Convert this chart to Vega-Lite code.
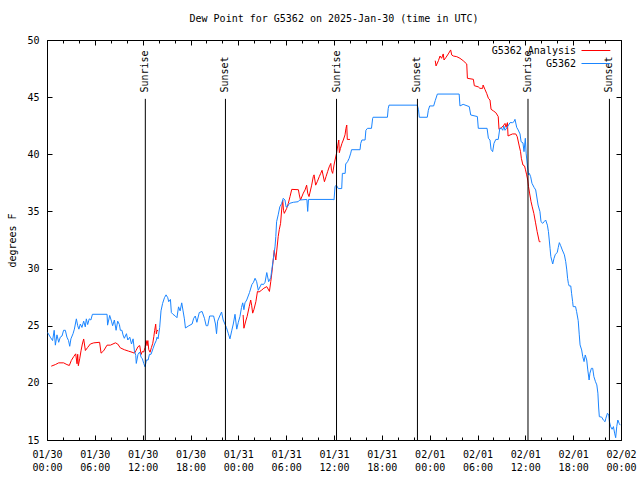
{
"$schema": "https://vega.github.io/schema/vega-lite/v6.json",
"width": 574, "height": 400,
"autosize": {"type": "none"},
"padding": {"left": 47, "top": 40, "right": 19, "bottom": 40},
"background": "white",
"title": {"text": "Dew Point for G5362 on 2025-Jan-30 (time in UTC)", "font": "DejaVu Sans Mono", "fontSize": 10, "fontWeight": "normal", "color": "black", "anchor": "middle", "frame": "group", "offset": 11},
"config": {"view": {"stroke": "black", "strokeWidth": 1}, "font": "DejaVu Sans Mono",
 "axis": {"grid": false, "domain": false, "tickColor": "black", "tickWidth": 1, "labelColor": "black", "labelFont": "DejaVu Sans Mono", "labelFontSize": 10, "titleFont": "DejaVu Sans Mono", "titleFontSize": 10, "titleFontWeight": "normal", "titleColor": "black"}},
"datasets": {
"sun": [
{"time": "2025-01-30T12:20:00Z", "event": "Sunrise"},
{"time": "2025-01-30T22:23:00Z", "event": "Sunset"},
{"time": "2025-01-31T12:19:00Z", "event": "Sunrise"},
{"time": "2025-01-31T22:28:00Z", "event": "Sunset"},
{"time": "2025-02-01T12:20:00Z", "event": "Sunrise"},
{"time": "2025-02-01T22:33:00Z", "event": "Sunset"}
],
"analysis": [
{"time":"2025-01-30T00:32:00Z","dewpoint":21.46,"series":"G5362 Analysis","segment":"a1"},
{"time":"2025-01-30T01:03:00Z","dewpoint":21.6,"series":"G5362 Analysis","segment":"a1"},
{"time":"2025-01-30T01:28:00Z","dewpoint":21.75,"series":"G5362 Analysis","segment":"a1"},
{"time":"2025-01-30T02:05:00Z","dewpoint":21.75,"series":"G5362 Analysis","segment":"a1"},
{"time":"2025-01-30T02:30:00Z","dewpoint":21.6,"series":"G5362 Analysis","segment":"a1"},
{"time":"2025-01-30T02:48:00Z","dewpoint":21.52,"series":"G5362 Analysis","segment":"a1"},
{"time":"2025-01-30T03:03:00Z","dewpoint":21.96,"series":"G5362 Analysis","segment":"a1"},
{"time":"2025-01-30T03:21:00Z","dewpoint":22.3,"series":"G5362 Analysis","segment":"a1"},
{"time":"2025-01-30T03:36:00Z","dewpoint":22.54,"series":"G5362 Analysis","segment":"a1"},
{"time":"2025-01-30T03:46:00Z","dewpoint":21.67,"series":"G5362 Analysis","segment":"a1"},
{"time":"2025-01-30T03:51:00Z","dewpoint":22.5,"series":"G5362 Analysis","segment":"a1"},
{"time":"2025-01-30T03:56:00Z","dewpoint":21.5,"series":"G5362 Analysis","segment":"a1"},
{"time":"2025-01-30T04:06:00Z","dewpoint":22.1,"series":"G5362 Analysis","segment":"a1"},
{"time":"2025-01-30T04:16:00Z","dewpoint":22.8,"series":"G5362 Analysis","segment":"a1"},
{"time":"2025-01-30T04:26:00Z","dewpoint":23.4,"series":"G5362 Analysis","segment":"a1"},
{"time":"2025-01-30T04:36:00Z","dewpoint":23.84,"series":"G5362 Analysis","segment":"a1"},
{"time":"2025-01-30T04:49:00Z","dewpoint":22.83,"series":"G5362 Analysis","segment":"a1"},
{"time":"2025-01-30T05:06:00Z","dewpoint":23.1,"series":"G5362 Analysis","segment":"a1"},
{"time":"2025-01-30T05:26:00Z","dewpoint":23.4,"series":"G5362 Analysis","segment":"a1"},
{"time":"2025-01-30T05:52:00Z","dewpoint":23.5,"series":"G5362 Analysis","segment":"a1"},
{"time":"2025-01-30T06:36:00Z","dewpoint":23.55,"series":"G5362 Analysis","segment":"a1"},
{"time":"2025-01-30T06:47:00Z","dewpoint":22.6,"series":"G5362 Analysis","segment":"a1"},
{"time":"2025-01-30T07:06:00Z","dewpoint":22.8,"series":"G5362 Analysis","segment":"a1"},
{"time":"2025-01-30T07:32:00Z","dewpoint":23.3,"series":"G5362 Analysis","segment":"a1"},
{"time":"2025-01-30T07:57:00Z","dewpoint":23.3,"series":"G5362 Analysis","segment":"a1"},
{"time":"2025-01-30T08:35:00Z","dewpoint":23.5,"series":"G5362 Analysis","segment":"a1"},
{"time":"2025-01-30T08:52:00Z","dewpoint":23.4,"series":"G5362 Analysis","segment":"a1"},
{"time":"2025-01-30T09:12:00Z","dewpoint":23.06,"series":"G5362 Analysis","segment":"a1"},
{"time":"2025-01-30T09:42:00Z","dewpoint":22.9,"series":"G5362 Analysis","segment":"a1"},
{"time":"2025-01-30T10:15:00Z","dewpoint":22.77,"series":"G5362 Analysis","segment":"a1"},
{"time":"2025-01-30T10:40:00Z","dewpoint":22.68,"series":"G5362 Analysis","segment":"a1"},
{"time":"2025-01-30T10:58:00Z","dewpoint":22.6,"series":"G5362 Analysis","segment":"a1"},
{"time":"2025-01-30T11:10:00Z","dewpoint":22.83,"series":"G5362 Analysis","segment":"a1"},
{"time":"2025-01-30T11:25:00Z","dewpoint":23.17,"series":"G5362 Analysis","segment":"a1"},
{"time":"2025-01-30T11:38:00Z","dewpoint":23.26,"series":"G5362 Analysis","segment":"a1"},
{"time":"2025-01-30T11:48:00Z","dewpoint":22.48,"series":"G5362 Analysis","segment":"a1"},
{"time":"2025-01-30T11:58:00Z","dewpoint":22.75,"series":"G5362 Analysis","segment":"a1"},
{"time":"2025-01-30T12:08:00Z","dewpoint":22.7,"series":"G5362 Analysis","segment":"a1"},
{"time":"2025-01-30T12:18:00Z","dewpoint":23.1,"series":"G5362 Analysis","segment":"a1"},
{"time":"2025-01-30T12:26:00Z","dewpoint":23.7,"series":"G5362 Analysis","segment":"a1"},
{"time":"2025-01-30T12:33:00Z","dewpoint":23.26,"series":"G5362 Analysis","segment":"a1"},
{"time":"2025-01-30T12:39:00Z","dewpoint":23.7,"series":"G5362 Analysis","segment":"a1"},
{"time":"2025-01-30T12:46:00Z","dewpoint":22.9,"series":"G5362 Analysis","segment":"a1"},
{"time":"2025-01-30T12:56:00Z","dewpoint":22.68,"series":"G5362 Analysis","segment":"a1"},
{"time":"2025-01-30T13:06:00Z","dewpoint":23.1,"series":"G5362 Analysis","segment":"a1"},
{"time":"2025-01-30T13:16:00Z","dewpoint":23.46,"series":"G5362 Analysis","segment":"a1"},
{"time":"2025-01-30T13:24:00Z","dewpoint":24.04,"series":"G5362 Analysis","segment":"a1"},
{"time":"2025-01-30T13:30:00Z","dewpoint":24.57,"series":"G5362 Analysis","segment":"a1"},
{"time":"2025-01-30T13:38:00Z","dewpoint":25.14,"series":"G5362 Analysis","segment":"a1"},
{"time":"2025-01-30T13:43:00Z","dewpoint":24.28,"series":"G5362 Analysis","segment":"a1"},
{"time":"2025-01-30T13:48:00Z","dewpoint":24.57,"series":"G5362 Analysis","segment":"a1"},
{"time":"2025-01-30T13:56:00Z","dewpoint":24.6,"series":"G5362 Analysis","segment":"a1"},
{"time":"2025-01-31T00:36:00Z","dewpoint":25.94,"series":"G5362 Analysis","segment":"a2"},
{"time":"2025-01-31T00:42:00Z","dewpoint":24.78,"series":"G5362 Analysis","segment":"a2"},
{"time":"2025-01-31T00:58:00Z","dewpoint":25.5,"series":"G5362 Analysis","segment":"a2"},
{"time":"2025-01-31T01:06:00Z","dewpoint":25.8,"series":"G5362 Analysis","segment":"a2"},
{"time":"2025-01-31T01:22:00Z","dewpoint":26.67,"series":"G5362 Analysis","segment":"a2"},
{"time":"2025-01-31T01:33:00Z","dewpoint":27.25,"series":"G5362 Analysis","segment":"a2"},
{"time":"2025-01-31T01:40:00Z","dewpoint":26.8,"series":"G5362 Analysis","segment":"a2"},
{"time":"2025-01-31T01:48:00Z","dewpoint":26.1,"series":"G5362 Analysis","segment":"a2"},
{"time":"2025-01-31T01:57:00Z","dewpoint":26.4,"series":"G5362 Analysis","segment":"a2"},
{"time":"2025-01-31T02:12:00Z","dewpoint":27.1,"series":"G5362 Analysis","segment":"a2"},
{"time":"2025-01-31T02:24:00Z","dewpoint":28.0,"series":"G5362 Analysis","segment":"a2"},
{"time":"2025-01-31T02:36:00Z","dewpoint":27.95,"series":"G5362 Analysis","segment":"a2"},
{"time":"2025-01-31T02:54:00Z","dewpoint":28.1,"series":"G5362 Analysis","segment":"a2"},
{"time":"2025-01-31T03:12:00Z","dewpoint":28.28,"series":"G5362 Analysis","segment":"a2"},
{"time":"2025-01-31T03:34:00Z","dewpoint":28.42,"series":"G5362 Analysis","segment":"a2"},
{"time":"2025-01-31T03:54:00Z","dewpoint":28.0,"series":"G5362 Analysis","segment":"a2"},
{"time":"2025-01-31T04:04:00Z","dewpoint":28.86,"series":"G5362 Analysis","segment":"a2"},
{"time":"2025-01-31T04:12:00Z","dewpoint":29.6,"series":"G5362 Analysis","segment":"a2"},
{"time":"2025-01-31T04:24:00Z","dewpoint":30.9,"series":"G5362 Analysis","segment":"a2"},
{"time":"2025-01-31T04:30:00Z","dewpoint":31.6,"series":"G5362 Analysis","segment":"a2"},
{"time":"2025-01-31T04:42:00Z","dewpoint":30.75,"series":"G5362 Analysis","segment":"a2"},
{"time":"2025-01-31T05:00:00Z","dewpoint":32.8,"series":"G5362 Analysis","segment":"a2"},
{"time":"2025-01-31T05:08:00Z","dewpoint":33.4,"series":"G5362 Analysis","segment":"a2"},
{"time":"2025-01-31T05:18:00Z","dewpoint":33.96,"series":"G5362 Analysis","segment":"a2"},
{"time":"2025-01-31T05:26:00Z","dewpoint":35.13,"series":"G5362 Analysis","segment":"a2"},
{"time":"2025-01-31T05:34:00Z","dewpoint":36.0,"series":"G5362 Analysis","segment":"a2"},
{"time":"2025-01-31T05:40:00Z","dewpoint":35.1,"series":"G5362 Analysis","segment":"a2"},
{"time":"2025-01-31T05:46:00Z","dewpoint":34.83,"series":"G5362 Analysis","segment":"a2"},
{"time":"2025-01-31T06:04:00Z","dewpoint":35.27,"series":"G5362 Analysis","segment":"a2"},
{"time":"2025-01-31T06:16:00Z","dewpoint":35.7,"series":"G5362 Analysis","segment":"a2"},
{"time":"2025-01-31T06:29:00Z","dewpoint":36.3,"series":"G5362 Analysis","segment":"a2"},
{"time":"2025-01-31T06:42:00Z","dewpoint":36.93,"series":"G5362 Analysis","segment":"a2"},
{"time":"2025-01-31T07:32:00Z","dewpoint":36.9,"series":"G5362 Analysis","segment":"a2"},
{"time":"2025-01-31T07:39:00Z","dewpoint":36.44,"series":"G5362 Analysis","segment":"a2"},
{"time":"2025-01-31T07:48:00Z","dewpoint":36.0,"series":"G5362 Analysis","segment":"a2"},
{"time":"2025-01-31T08:09:00Z","dewpoint":36.6,"series":"G5362 Analysis","segment":"a2"},
{"time":"2025-01-31T08:22:00Z","dewpoint":36.88,"series":"G5362 Analysis","segment":"a2"},
{"time":"2025-01-31T08:34:00Z","dewpoint":37.3,"series":"G5362 Analysis","segment":"a2"},
{"time":"2025-01-31T08:42:00Z","dewpoint":36.6,"series":"G5362 Analysis","segment":"a2"},
{"time":"2025-01-31T08:52:00Z","dewpoint":36.3,"series":"G5362 Analysis","segment":"a2"},
{"time":"2025-01-31T09:12:00Z","dewpoint":37.3,"series":"G5362 Analysis","segment":"a2"},
{"time":"2025-01-31T09:24:00Z","dewpoint":38.04,"series":"G5362 Analysis","segment":"a2"},
{"time":"2025-01-31T09:30:00Z","dewpoint":38.2,"series":"G5362 Analysis","segment":"a2"},
{"time":"2025-01-31T09:42:00Z","dewpoint":37.3,"series":"G5362 Analysis","segment":"a2"},
{"time":"2025-01-31T09:54:00Z","dewpoint":37.6,"series":"G5362 Analysis","segment":"a2"},
{"time":"2025-01-31T10:09:00Z","dewpoint":38.04,"series":"G5362 Analysis","segment":"a2"},
{"time":"2025-01-31T10:20:00Z","dewpoint":38.33,"series":"G5362 Analysis","segment":"a2"},
{"time":"2025-01-31T10:30:00Z","dewpoint":38.6,"series":"G5362 Analysis","segment":"a2"},
{"time":"2025-01-31T10:48:00Z","dewpoint":37.6,"series":"G5362 Analysis","segment":"a2"},
{"time":"2025-01-31T11:00:00Z","dewpoint":38.04,"series":"G5362 Analysis","segment":"a2"},
{"time":"2025-01-31T11:12:00Z","dewpoint":38.48,"series":"G5362 Analysis","segment":"a2"},
{"time":"2025-01-31T11:24:00Z","dewpoint":38.9,"series":"G5362 Analysis","segment":"a2"},
{"time":"2025-01-31T11:36:00Z","dewpoint":39.2,"series":"G5362 Analysis","segment":"a2"},
{"time":"2025-01-31T11:41:00Z","dewpoint":38.6,"series":"G5362 Analysis","segment":"a2"},
{"time":"2025-01-31T11:50:00Z","dewpoint":38.33,"series":"G5362 Analysis","segment":"a2"},
{"time":"2025-01-31T12:00:00Z","dewpoint":39.06,"series":"G5362 Analysis","segment":"a2"},
{"time":"2025-01-31T12:08:00Z","dewpoint":39.5,"series":"G5362 Analysis","segment":"a2"},
{"time":"2025-01-31T12:20:00Z","dewpoint":40.14,"series":"G5362 Analysis","segment":"a2"},
{"time":"2025-01-31T12:28:00Z","dewpoint":40.73,"series":"G5362 Analysis","segment":"a2"},
{"time":"2025-01-31T12:36:00Z","dewpoint":41.25,"series":"G5362 Analysis","segment":"a2"},
{"time":"2025-01-31T12:40:00Z","dewpoint":40.14,"series":"G5362 Analysis","segment":"a2"},
{"time":"2025-01-31T12:48:00Z","dewpoint":40.5,"series":"G5362 Analysis","segment":"a2"},
{"time":"2025-01-31T13:00:00Z","dewpoint":40.96,"series":"G5362 Analysis","segment":"a2"},
{"time":"2025-01-31T13:10:00Z","dewpoint":41.25,"series":"G5362 Analysis","segment":"a2"},
{"time":"2025-01-31T13:23:00Z","dewpoint":41.7,"series":"G5362 Analysis","segment":"a2"},
{"time":"2025-01-31T13:30:00Z","dewpoint":42.27,"series":"G5362 Analysis","segment":"a2"},
{"time":"2025-01-31T13:36:00Z","dewpoint":42.56,"series":"G5362 Analysis","segment":"a2"},
{"time":"2025-01-31T13:40:00Z","dewpoint":41.3,"series":"G5362 Analysis","segment":"a2"},
{"time":"2025-01-31T14:00:00Z","dewpoint":41.3,"series":"G5362 Analysis","segment":"a2"},
{"time":"2025-02-01T00:42:00Z","dewpoint":48.19,"series":"G5362 Analysis","segment":"a3"},
{"time":"2025-02-01T00:48:00Z","dewpoint":47.73,"series":"G5362 Analysis","segment":"a3"},
{"time":"2025-02-01T01:06:00Z","dewpoint":48.19,"series":"G5362 Analysis","segment":"a3"},
{"time":"2025-02-01T01:18:00Z","dewpoint":48.6,"series":"G5362 Analysis","segment":"a3"},
{"time":"2025-02-01T01:30:00Z","dewpoint":48.4,"series":"G5362 Analysis","segment":"a3"},
{"time":"2025-02-01T01:42:00Z","dewpoint":48.78,"series":"G5362 Analysis","segment":"a3"},
{"time":"2025-02-01T01:48:00Z","dewpoint":48.25,"series":"G5362 Analysis","segment":"a3"},
{"time":"2025-02-01T02:03:00Z","dewpoint":48.48,"series":"G5362 Analysis","segment":"a3"},
{"time":"2025-02-01T02:20:00Z","dewpoint":48.78,"series":"G5362 Analysis","segment":"a3"},
{"time":"2025-02-01T02:38:00Z","dewpoint":49.13,"series":"G5362 Analysis","segment":"a3"},
{"time":"2025-02-01T02:46:00Z","dewpoint":48.69,"series":"G5362 Analysis","segment":"a3"},
{"time":"2025-02-01T02:58:00Z","dewpoint":48.6,"series":"G5362 Analysis","segment":"a3"},
{"time":"2025-02-01T03:24:00Z","dewpoint":48.54,"series":"G5362 Analysis","segment":"a3"},
{"time":"2025-02-01T03:48:00Z","dewpoint":48.4,"series":"G5362 Analysis","segment":"a3"},
{"time":"2025-02-01T04:12:00Z","dewpoint":48.19,"series":"G5362 Analysis","segment":"a3"},
{"time":"2025-02-01T04:39:00Z","dewpoint":47.9,"series":"G5362 Analysis","segment":"a3"},
{"time":"2025-02-01T04:44:00Z","dewpoint":46.65,"series":"G5362 Analysis","segment":"a3"},
{"time":"2025-02-01T05:29:00Z","dewpoint":46.56,"series":"G5362 Analysis","segment":"a3"},
{"time":"2025-02-01T05:36:00Z","dewpoint":46.0,"series":"G5362 Analysis","segment":"a3"},
{"time":"2025-02-01T06:06:00Z","dewpoint":45.9,"series":"G5362 Analysis","segment":"a3"},
{"time":"2025-02-01T06:18:00Z","dewpoint":45.77,"series":"G5362 Analysis","segment":"a3"},
{"time":"2025-02-01T06:39:00Z","dewpoint":45.77,"series":"G5362 Analysis","segment":"a3"},
{"time":"2025-02-01T06:42:00Z","dewpoint":46.06,"series":"G5362 Analysis","segment":"a3"},
{"time":"2025-02-01T06:56:00Z","dewpoint":45.68,"series":"G5362 Analysis","segment":"a3"},
{"time":"2025-02-01T07:09:00Z","dewpoint":45.33,"series":"G5362 Analysis","segment":"a3"},
{"time":"2025-02-01T07:22:00Z","dewpoint":44.9,"series":"G5362 Analysis","segment":"a3"},
{"time":"2025-02-01T07:34:00Z","dewpoint":44.75,"series":"G5362 Analysis","segment":"a3"},
{"time":"2025-02-01T07:42:00Z","dewpoint":43.94,"series":"G5362 Analysis","segment":"a3"},
{"time":"2025-02-01T07:59:00Z","dewpoint":43.8,"series":"G5362 Analysis","segment":"a3"},
{"time":"2025-02-01T08:18:00Z","dewpoint":43.64,"series":"G5362 Analysis","segment":"a3"},
{"time":"2025-02-01T08:36:00Z","dewpoint":43.3,"series":"G5362 Analysis","segment":"a3"},
{"time":"2025-02-01T08:42:00Z","dewpoint":42.18,"series":"G5362 Analysis","segment":"a3"},
{"time":"2025-02-01T09:02:00Z","dewpoint":42.36,"series":"G5362 Analysis","segment":"a3"},
{"time":"2025-02-01T09:14:00Z","dewpoint":42.48,"series":"G5362 Analysis","segment":"a3"},
{"time":"2025-02-01T09:27:00Z","dewpoint":42.7,"series":"G5362 Analysis","segment":"a3"},
{"time":"2025-02-01T09:35:00Z","dewpoint":42.36,"series":"G5362 Analysis","segment":"a3"},
{"time":"2025-02-01T09:45:00Z","dewpoint":42.77,"series":"G5362 Analysis","segment":"a3"},
{"time":"2025-02-01T09:50:00Z","dewpoint":41.6,"series":"G5362 Analysis","segment":"a3"},
{"time":"2025-02-01T10:05:00Z","dewpoint":41.69,"series":"G5362 Analysis","segment":"a3"},
{"time":"2025-02-01T10:24:00Z","dewpoint":41.78,"series":"G5362 Analysis","segment":"a3"},
{"time":"2025-02-01T10:48:00Z","dewpoint":41.78,"series":"G5362 Analysis","segment":"a3"},
{"time":"2025-02-01T10:59:00Z","dewpoint":41.54,"series":"G5362 Analysis","segment":"a3"},
{"time":"2025-02-01T11:14:00Z","dewpoint":40.73,"series":"G5362 Analysis","segment":"a3"},
{"time":"2025-02-01T11:24:00Z","dewpoint":40.23,"series":"G5362 Analysis","segment":"a3"},
{"time":"2025-02-01T11:30:00Z","dewpoint":39.65,"series":"G5362 Analysis","segment":"a3"},
{"time":"2025-02-01T11:42:00Z","dewpoint":39.06,"series":"G5362 Analysis","segment":"a3"},
{"time":"2025-02-01T11:54:00Z","dewpoint":38.98,"series":"G5362 Analysis","segment":"a3"},
{"time":"2025-02-01T12:00:00Z","dewpoint":38.7,"series":"G5362 Analysis","segment":"a3"},
{"time":"2025-02-01T12:10:00Z","dewpoint":38.2,"series":"G5362 Analysis","segment":"a3"},
{"time":"2025-02-01T12:18:00Z","dewpoint":37.75,"series":"G5362 Analysis","segment":"a3"},
{"time":"2025-02-01T12:24:00Z","dewpoint":37.17,"series":"G5362 Analysis","segment":"a3"},
{"time":"2025-02-01T12:33:00Z","dewpoint":36.53,"series":"G5362 Analysis","segment":"a3"},
{"time":"2025-02-01T12:43:00Z","dewpoint":35.85,"series":"G5362 Analysis","segment":"a3"},
{"time":"2025-02-01T12:52:00Z","dewpoint":35.4,"series":"G5362 Analysis","segment":"a3"},
{"time":"2025-02-01T13:04:00Z","dewpoint":34.83,"series":"G5362 Analysis","segment":"a3"},
{"time":"2025-02-01T13:17:00Z","dewpoint":34.0,"series":"G5362 Analysis","segment":"a3"},
{"time":"2025-02-01T13:29:00Z","dewpoint":33.23,"series":"G5362 Analysis","segment":"a3"},
{"time":"2025-02-01T13:45:00Z","dewpoint":32.35,"series":"G5362 Analysis","segment":"a3"},
{"time":"2025-02-01T13:54:00Z","dewpoint":32.35,"series":"G5362 Analysis","segment":"a3"}
],
"station": [
{"time":"2025-01-30T00:05:00Z","dewpoint":24.4,"series":"G5362"},
{"time":"2025-01-30T00:25:00Z","dewpoint":24.0,"series":"G5362"},
{"time":"2025-01-30T00:42:00Z","dewpoint":23.7,"series":"G5362"},
{"time":"2025-01-30T00:54:00Z","dewpoint":24.6,"series":"G5362"},
{"time":"2025-01-30T01:03:00Z","dewpoint":23.3,"series":"G5362"},
{"time":"2025-01-30T01:15:00Z","dewpoint":24.2,"series":"G5362"},
{"time":"2025-01-30T01:28:00Z","dewpoint":23.55,"series":"G5362"},
{"time":"2025-01-30T01:40:00Z","dewpoint":24.0,"series":"G5362"},
{"time":"2025-01-30T01:53:00Z","dewpoint":24.1,"series":"G5362"},
{"time":"2025-01-30T02:05:00Z","dewpoint":24.6,"series":"G5362"},
{"time":"2025-01-30T02:18:00Z","dewpoint":24.6,"series":"G5362"},
{"time":"2025-01-30T02:30:00Z","dewpoint":24.0,"series":"G5362"},
{"time":"2025-01-30T02:42:00Z","dewpoint":23.7,"series":"G5362"},
{"time":"2025-01-30T02:51:00Z","dewpoint":23.2,"series":"G5362"},
{"time":"2025-01-30T03:00:00Z","dewpoint":23.85,"series":"G5362"},
{"time":"2025-01-30T03:16:00Z","dewpoint":24.3,"series":"G5362"},
{"time":"2025-01-30T03:26:00Z","dewpoint":24.7,"series":"G5362"},
{"time":"2025-01-30T03:41:00Z","dewpoint":25.6,"series":"G5362"},
{"time":"2025-01-30T03:51:00Z","dewpoint":25.0,"series":"G5362"},
{"time":"2025-01-30T04:00:00Z","dewpoint":24.7,"series":"G5362"},
{"time":"2025-01-30T04:11:00Z","dewpoint":25.15,"series":"G5362"},
{"time":"2025-01-30T04:23:00Z","dewpoint":24.85,"series":"G5362"},
{"time":"2025-01-30T04:36:00Z","dewpoint":25.4,"series":"G5362"},
{"time":"2025-01-30T04:48:00Z","dewpoint":24.9,"series":"G5362"},
{"time":"2025-01-30T04:56:00Z","dewpoint":25.6,"series":"G5362"},
{"time":"2025-01-30T05:06:00Z","dewpoint":25.1,"series":"G5362"},
{"time":"2025-01-30T05:18:00Z","dewpoint":25.6,"series":"G5362"},
{"time":"2025-01-30T05:30:00Z","dewpoint":25.5,"series":"G5362"},
{"time":"2025-01-30T05:42:00Z","dewpoint":26.0,"series":"G5362"},
{"time":"2025-01-30T07:32:00Z","dewpoint":26.0,"series":"G5362"},
{"time":"2025-01-30T07:36:00Z","dewpoint":25.05,"series":"G5362"},
{"time":"2025-01-30T07:52:00Z","dewpoint":25.9,"series":"G5362"},
{"time":"2025-01-30T08:05:00Z","dewpoint":25.4,"series":"G5362"},
{"time":"2025-01-30T08:14:00Z","dewpoint":25.0,"series":"G5362"},
{"time":"2025-01-30T08:27:00Z","dewpoint":25.5,"series":"G5362"},
{"time":"2025-01-30T08:40:00Z","dewpoint":24.6,"series":"G5362"},
{"time":"2025-01-30T08:52:00Z","dewpoint":25.4,"series":"G5362"},
{"time":"2025-01-30T09:05:00Z","dewpoint":25.1,"series":"G5362"},
{"time":"2025-01-30T09:12:00Z","dewpoint":24.6,"series":"G5362"},
{"time":"2025-01-30T09:24:00Z","dewpoint":24.6,"series":"G5362"},
{"time":"2025-01-30T09:32:00Z","dewpoint":24.2,"series":"G5362"},
{"time":"2025-01-30T09:42:00Z","dewpoint":23.9,"series":"G5362"},
{"time":"2025-01-30T09:58:00Z","dewpoint":24.3,"series":"G5362"},
{"time":"2025-01-30T10:08:00Z","dewpoint":23.75,"series":"G5362"},
{"time":"2025-01-30T10:23:00Z","dewpoint":24.0,"series":"G5362"},
{"time":"2025-01-30T10:36:00Z","dewpoint":23.4,"series":"G5362"},
{"time":"2025-01-30T10:48:00Z","dewpoint":23.85,"series":"G5362"},
{"time":"2025-01-30T10:58:00Z","dewpoint":22.8,"series":"G5362"},
{"time":"2025-01-30T11:08:00Z","dewpoint":22.4,"series":"G5362"},
{"time":"2025-01-30T11:12:00Z","dewpoint":21.7,"series":"G5362"},
{"time":"2025-01-30T11:25:00Z","dewpoint":22.5,"series":"G5362"},
{"time":"2025-01-30T11:38:00Z","dewpoint":22.7,"series":"G5362"},
{"time":"2025-01-30T11:48:00Z","dewpoint":22.25,"series":"G5362"},
{"time":"2025-01-30T11:58:00Z","dewpoint":22.1,"series":"G5362"},
{"time":"2025-01-30T12:08:00Z","dewpoint":21.7,"series":"G5362"},
{"time":"2025-01-30T12:18:00Z","dewpoint":21.4,"series":"G5362"},
{"time":"2025-01-30T12:28:00Z","dewpoint":22.0,"series":"G5362"},
{"time":"2025-01-30T12:41:00Z","dewpoint":22.0,"series":"G5362"},
{"time":"2025-01-30T12:51:00Z","dewpoint":22.5,"series":"G5362"},
{"time":"2025-01-30T13:03:00Z","dewpoint":22.5,"series":"G5362"},
{"time":"2025-01-30T13:18:00Z","dewpoint":23.0,"series":"G5362"},
{"time":"2025-01-30T13:30:00Z","dewpoint":23.4,"series":"G5362"},
{"time":"2025-01-30T13:42:00Z","dewpoint":23.7,"series":"G5362"},
{"time":"2025-01-30T13:48:00Z","dewpoint":24.0,"series":"G5362"},
{"time":"2025-01-30T13:56:00Z","dewpoint":23.85,"series":"G5362"},
{"time":"2025-01-30T14:08:00Z","dewpoint":24.85,"series":"G5362"},
{"time":"2025-01-30T14:18:00Z","dewpoint":26.3,"series":"G5362"},
{"time":"2025-01-30T14:30:00Z","dewpoint":26.95,"series":"G5362"},
{"time":"2025-01-30T14:44:00Z","dewpoint":27.45,"series":"G5362"},
{"time":"2025-01-30T14:56:00Z","dewpoint":27.7,"series":"G5362"},
{"time":"2025-01-30T15:09:00Z","dewpoint":27.45,"series":"G5362"},
{"time":"2025-01-30T15:16:00Z","dewpoint":27.1,"series":"G5362"},
{"time":"2025-01-30T15:29:00Z","dewpoint":27.3,"series":"G5362"},
{"time":"2025-01-30T15:36:00Z","dewpoint":26.15,"series":"G5362"},
{"time":"2025-01-30T15:48:00Z","dewpoint":26.0,"series":"G5362"},
{"time":"2025-01-30T16:06:00Z","dewpoint":25.85,"series":"G5362"},
{"time":"2025-01-30T16:18:00Z","dewpoint":25.7,"series":"G5362"},
{"time":"2025-01-30T16:30:00Z","dewpoint":26.65,"series":"G5362"},
{"time":"2025-01-30T16:42:00Z","dewpoint":26.3,"series":"G5362"},
{"time":"2025-01-30T16:54:00Z","dewpoint":27.0,"series":"G5362"},
{"time":"2025-01-30T17:04:00Z","dewpoint":26.3,"series":"G5362"},
{"time":"2025-01-30T17:14:00Z","dewpoint":25.6,"series":"G5362"},
{"time":"2025-01-30T17:22:00Z","dewpoint":24.8,"series":"G5362"},
{"time":"2025-01-30T17:48:00Z","dewpoint":25.0,"series":"G5362"},
{"time":"2025-01-30T18:12:00Z","dewpoint":25.15,"series":"G5362"},
{"time":"2025-01-30T18:24:00Z","dewpoint":25.65,"series":"G5362"},
{"time":"2025-01-30T18:36:00Z","dewpoint":25.85,"series":"G5362"},
{"time":"2025-01-30T18:48:00Z","dewpoint":25.3,"series":"G5362"},
{"time":"2025-01-30T19:06:00Z","dewpoint":26.15,"series":"G5362"},
{"time":"2025-01-30T19:27:00Z","dewpoint":26.25,"series":"G5362"},
{"time":"2025-01-30T19:45:00Z","dewpoint":25.65,"series":"G5362"},
{"time":"2025-01-30T19:58:00Z","dewpoint":25.0,"series":"G5362"},
{"time":"2025-01-30T20:10:00Z","dewpoint":25.0,"series":"G5362"},
{"time":"2025-01-30T20:24:00Z","dewpoint":25.85,"series":"G5362"},
{"time":"2025-01-30T20:54:00Z","dewpoint":25.85,"series":"G5362"},
{"time":"2025-01-30T21:08:00Z","dewpoint":25.15,"series":"G5362"},
{"time":"2025-01-30T21:16:00Z","dewpoint":24.3,"series":"G5362"},
{"time":"2025-01-30T21:24:00Z","dewpoint":25.4,"series":"G5362"},
{"time":"2025-01-30T21:40:00Z","dewpoint":25.85,"series":"G5362"},
{"time":"2025-01-30T21:54:00Z","dewpoint":26.2,"series":"G5362"},
{"time":"2025-01-30T22:06:00Z","dewpoint":25.5,"series":"G5362"},
{"time":"2025-01-30T22:30:00Z","dewpoint":24.85,"series":"G5362"},
{"time":"2025-01-30T22:45:00Z","dewpoint":24.3,"series":"G5362"},
{"time":"2025-01-30T22:57:00Z","dewpoint":23.85,"series":"G5362"},
{"time":"2025-01-30T23:10:00Z","dewpoint":24.55,"series":"G5362"},
{"time":"2025-01-30T23:22:00Z","dewpoint":25.15,"series":"G5362"},
{"time":"2025-01-30T23:35:00Z","dewpoint":26.0,"series":"G5362"},
{"time":"2025-01-30T23:48:00Z","dewpoint":24.7,"series":"G5362"},
{"time":"2025-01-31T00:00:00Z","dewpoint":25.3,"series":"G5362"},
{"time":"2025-01-31T00:12:00Z","dewpoint":25.8,"series":"G5362"},
{"time":"2025-01-31T00:24:00Z","dewpoint":26.6,"series":"G5362"},
{"time":"2025-01-31T00:33:00Z","dewpoint":27.0,"series":"G5362"},
{"time":"2025-01-31T00:42:00Z","dewpoint":26.4,"series":"G5362"},
{"time":"2025-01-31T00:50:00Z","dewpoint":27.0,"series":"G5362"},
{"time":"2025-01-31T01:03:00Z","dewpoint":27.25,"series":"G5362"},
{"time":"2025-01-31T01:24:00Z","dewpoint":27.9,"series":"G5362"},
{"time":"2025-01-31T01:42:00Z","dewpoint":28.6,"series":"G5362"},
{"time":"2025-01-31T01:54:00Z","dewpoint":28.8,"series":"G5362"},
{"time":"2025-01-31T02:06:00Z","dewpoint":29.15,"series":"G5362"},
{"time":"2025-01-31T02:18:00Z","dewpoint":28.85,"series":"G5362"},
{"time":"2025-01-31T02:30:00Z","dewpoint":28.1,"series":"G5362"},
{"time":"2025-01-31T02:54:00Z","dewpoint":28.65,"series":"G5362"},
{"time":"2025-01-31T03:09:00Z","dewpoint":28.6,"series":"G5362"},
{"time":"2025-01-31T03:21:00Z","dewpoint":28.8,"series":"G5362"},
{"time":"2025-01-31T03:34:00Z","dewpoint":29.65,"series":"G5362"},
{"time":"2025-01-31T03:48:00Z","dewpoint":28.85,"series":"G5362"},
{"time":"2025-01-31T04:04:00Z","dewpoint":29.2,"series":"G5362"},
{"time":"2025-01-31T04:12:00Z","dewpoint":29.9,"series":"G5362"},
{"time":"2025-01-31T04:24:00Z","dewpoint":30.9,"series":"G5362"},
{"time":"2025-01-31T04:36:00Z","dewpoint":31.9,"series":"G5362"},
{"time":"2025-01-31T04:42:00Z","dewpoint":32.8,"series":"G5362"},
{"time":"2025-01-31T04:48:00Z","dewpoint":34.1,"series":"G5362"},
{"time":"2025-01-31T05:00:00Z","dewpoint":34.7,"series":"G5362"},
{"time":"2025-01-31T05:12:00Z","dewpoint":35.4,"series":"G5362"},
{"time":"2025-01-31T05:26:00Z","dewpoint":35.7,"series":"G5362"},
{"time":"2025-01-31T05:38:00Z","dewpoint":36.15,"series":"G5362"},
{"time":"2025-01-31T05:51:00Z","dewpoint":36.0,"series":"G5362"},
{"time":"2025-01-31T05:59:00Z","dewpoint":35.4,"series":"G5362"},
{"time":"2025-01-31T06:09:00Z","dewpoint":35.4,"series":"G5362"},
{"time":"2025-01-31T06:24:00Z","dewpoint":35.7,"series":"G5362"},
{"time":"2025-01-31T06:54:00Z","dewpoint":35.8,"series":"G5362"},
{"time":"2025-01-31T07:30:00Z","dewpoint":35.85,"series":"G5362"},
{"time":"2025-01-31T07:42:00Z","dewpoint":36.0,"series":"G5362"},
{"time":"2025-01-31T08:36:00Z","dewpoint":36.05,"series":"G5362"},
{"time":"2025-01-31T08:42:00Z","dewpoint":35.0,"series":"G5362"},
{"time":"2025-01-31T08:48:00Z","dewpoint":36.05,"series":"G5362"},
{"time":"2025-01-31T11:54:00Z","dewpoint":36.05,"series":"G5362"},
{"time":"2025-01-31T12:00:00Z","dewpoint":36.0,"series":"G5362"},
{"time":"2025-01-31T12:08:00Z","dewpoint":37.2,"series":"G5362"},
{"time":"2025-01-31T12:18:00Z","dewpoint":37.3,"series":"G5362"},
{"time":"2025-01-31T12:32:00Z","dewpoint":37.0,"series":"G5362"},
{"time":"2025-01-31T12:58:00Z","dewpoint":37.0,"series":"G5362"},
{"time":"2025-01-31T13:03:00Z","dewpoint":38.33,"series":"G5362"},
{"time":"2025-01-31T13:24:00Z","dewpoint":38.33,"series":"G5362"},
{"time":"2025-01-31T13:28:00Z","dewpoint":39.15,"series":"G5362"},
{"time":"2025-01-31T13:42:00Z","dewpoint":39.35,"series":"G5362"},
{"time":"2025-01-31T13:54:00Z","dewpoint":39.65,"series":"G5362"},
{"time":"2025-01-31T14:06:00Z","dewpoint":40.1,"series":"G5362"},
{"time":"2025-01-31T14:12:00Z","dewpoint":40.4,"series":"G5362"},
{"time":"2025-01-31T15:16:00Z","dewpoint":40.4,"series":"G5362"},
{"time":"2025-01-31T15:21:00Z","dewpoint":40.95,"series":"G5362"},
{"time":"2025-01-31T15:30:00Z","dewpoint":41.25,"series":"G5362"},
{"time":"2025-01-31T15:54:00Z","dewpoint":41.25,"series":"G5362"},
{"time":"2025-01-31T16:00:00Z","dewpoint":42.1,"series":"G5362"},
{"time":"2025-01-31T16:12:00Z","dewpoint":42.27,"series":"G5362"},
{"time":"2025-01-31T16:42:00Z","dewpoint":42.27,"series":"G5362"},
{"time":"2025-01-31T16:51:00Z","dewpoint":43.15,"series":"G5362"},
{"time":"2025-01-31T16:54:00Z","dewpoint":43.24,"series":"G5362"},
{"time":"2025-01-31T18:42:00Z","dewpoint":43.24,"series":"G5362"},
{"time":"2025-01-31T18:48:00Z","dewpoint":44.0,"series":"G5362"},
{"time":"2025-01-31T18:54:00Z","dewpoint":44.3,"series":"G5362"},
{"time":"2025-01-31T22:27:00Z","dewpoint":44.3,"series":"G5362"},
{"time":"2025-01-31T22:36:00Z","dewpoint":43.9,"series":"G5362"},
{"time":"2025-01-31T22:42:00Z","dewpoint":43.24,"series":"G5362"},
{"time":"2025-01-31T23:42:00Z","dewpoint":43.24,"series":"G5362"},
{"time":"2025-01-31T23:50:00Z","dewpoint":43.85,"series":"G5362"},
{"time":"2025-02-01T00:00:00Z","dewpoint":44.23,"series":"G5362"},
{"time":"2025-02-01T00:30:00Z","dewpoint":44.23,"series":"G5362"},
{"time":"2025-02-01T00:42:00Z","dewpoint":44.7,"series":"G5362"},
{"time":"2025-02-01T00:58:00Z","dewpoint":45.27,"series":"G5362"},
{"time":"2025-02-01T03:42:00Z","dewpoint":45.27,"series":"G5362"},
{"time":"2025-02-01T03:48:00Z","dewpoint":44.23,"series":"G5362"},
{"time":"2025-02-01T04:12:00Z","dewpoint":44.37,"series":"G5362"},
{"time":"2025-02-01T04:58:00Z","dewpoint":44.17,"series":"G5362"},
{"time":"2025-02-01T05:09:00Z","dewpoint":43.44,"series":"G5362"},
{"time":"2025-02-01T05:59:00Z","dewpoint":43.3,"series":"G5362"},
{"time":"2025-02-01T06:06:00Z","dewpoint":42.27,"series":"G5362"},
{"time":"2025-02-01T07:12:00Z","dewpoint":42.27,"series":"G5362"},
{"time":"2025-02-01T07:22:00Z","dewpoint":41.4,"series":"G5362"},
{"time":"2025-02-01T07:34:00Z","dewpoint":41.25,"series":"G5362"},
{"time":"2025-02-01T07:42:00Z","dewpoint":40.43,"series":"G5362"},
{"time":"2025-02-01T07:54:00Z","dewpoint":40.23,"series":"G5362"},
{"time":"2025-02-01T08:04:00Z","dewpoint":40.96,"series":"G5362"},
{"time":"2025-02-01T08:18:00Z","dewpoint":41.3,"series":"G5362"},
{"time":"2025-02-01T08:36:00Z","dewpoint":41.3,"series":"G5362"},
{"time":"2025-02-01T08:48:00Z","dewpoint":42.27,"series":"G5362"},
{"time":"2025-02-01T09:00:00Z","dewpoint":42.27,"series":"G5362"},
{"time":"2025-02-01T09:10:00Z","dewpoint":42.1,"series":"G5362"},
{"time":"2025-02-01T09:18:00Z","dewpoint":42.47,"series":"G5362"},
{"time":"2025-02-01T09:27:00Z","dewpoint":42.1,"series":"G5362"},
{"time":"2025-02-01T09:40:00Z","dewpoint":42.3,"series":"G5362"},
{"time":"2025-02-01T10:05:00Z","dewpoint":42.77,"series":"G5362"},
{"time":"2025-02-01T10:24:00Z","dewpoint":42.77,"series":"G5362"},
{"time":"2025-02-01T10:35:00Z","dewpoint":42.86,"series":"G5362"},
{"time":"2025-02-01T10:42:00Z","dewpoint":43.06,"series":"G5362"},
{"time":"2025-02-01T10:55:00Z","dewpoint":42.36,"series":"G5362"},
{"time":"2025-02-01T11:06:00Z","dewpoint":42.13,"series":"G5362"},
{"time":"2025-02-01T11:20:00Z","dewpoint":41.78,"series":"G5362"},
{"time":"2025-02-01T11:28:00Z","dewpoint":41.1,"series":"G5362"},
{"time":"2025-02-01T11:42:00Z","dewpoint":41.0,"series":"G5362"},
{"time":"2025-02-01T11:50:00Z","dewpoint":40.23,"series":"G5362"},
{"time":"2025-02-01T12:00:00Z","dewpoint":41.4,"series":"G5362"},
{"time":"2025-02-01T12:06:00Z","dewpoint":40.1,"series":"G5362"},
{"time":"2025-02-01T12:15:00Z","dewpoint":39.06,"series":"G5362"},
{"time":"2025-02-01T12:24:00Z","dewpoint":38.2,"series":"G5362"},
{"time":"2025-02-01T12:30:00Z","dewpoint":38.33,"series":"G5362"},
{"time":"2025-02-01T12:40:00Z","dewpoint":38.04,"series":"G5362"},
{"time":"2025-02-01T12:50:00Z","dewpoint":37.46,"series":"G5362"},
{"time":"2025-02-01T13:06:00Z","dewpoint":37.1,"series":"G5362"},
{"time":"2025-02-01T13:18:00Z","dewpoint":36.88,"series":"G5362"},
{"time":"2025-02-01T13:30:00Z","dewpoint":36.0,"series":"G5362"},
{"time":"2025-02-01T13:36:00Z","dewpoint":35.56,"series":"G5362"},
{"time":"2025-02-01T13:50:00Z","dewpoint":34.98,"series":"G5362"},
{"time":"2025-02-01T13:58:00Z","dewpoint":34.1,"series":"G5362"},
{"time":"2025-02-01T14:11:00Z","dewpoint":33.96,"series":"G5362"},
{"time":"2025-02-01T14:21:00Z","dewpoint":34.1,"series":"G5362"},
{"time":"2025-02-01T14:33:00Z","dewpoint":34.25,"series":"G5362"},
{"time":"2025-02-01T14:46:00Z","dewpoint":33.8,"series":"G5362"},
{"time":"2025-02-01T14:54:00Z","dewpoint":33.23,"series":"G5362"},
{"time":"2025-02-01T15:00:00Z","dewpoint":32.5,"series":"G5362"},
{"time":"2025-02-01T15:06:00Z","dewpoint":31.77,"series":"G5362"},
{"time":"2025-02-01T15:12:00Z","dewpoint":31.04,"series":"G5362"},
{"time":"2025-02-01T15:26:00Z","dewpoint":30.4,"series":"G5362"},
{"time":"2025-02-01T15:36:00Z","dewpoint":30.9,"series":"G5362"},
{"time":"2025-02-01T15:46:00Z","dewpoint":31.25,"series":"G5362"},
{"time":"2025-02-01T16:00:00Z","dewpoint":31.4,"series":"G5362"},
{"time":"2025-02-01T16:08:00Z","dewpoint":31.86,"series":"G5362"},
{"time":"2025-02-01T16:16:00Z","dewpoint":32.27,"series":"G5362"},
{"time":"2025-02-01T16:26:00Z","dewpoint":32.0,"series":"G5362"},
{"time":"2025-02-01T16:38:00Z","dewpoint":31.63,"series":"G5362"},
{"time":"2025-02-01T16:54:00Z","dewpoint":31.2,"series":"G5362"},
{"time":"2025-02-01T17:04:00Z","dewpoint":30.6,"series":"G5362"},
{"time":"2025-02-01T17:12:00Z","dewpoint":29.88,"series":"G5362"},
{"time":"2025-02-01T17:18:00Z","dewpoint":29.15,"series":"G5362"},
{"time":"2025-02-01T17:24:00Z","dewpoint":28.7,"series":"G5362"},
{"time":"2025-02-01T17:30:00Z","dewpoint":28.48,"series":"G5362"},
{"time":"2025-02-01T17:42:00Z","dewpoint":28.48,"series":"G5362"},
{"time":"2025-02-01T17:48:00Z","dewpoint":27.84,"series":"G5362"},
{"time":"2025-02-01T17:56:00Z","dewpoint":27.1,"series":"G5362"},
{"time":"2025-02-01T18:00:00Z","dewpoint":26.67,"series":"G5362"},
{"time":"2025-02-01T18:18:00Z","dewpoint":26.67,"series":"G5362"},
{"time":"2025-02-01T18:26:00Z","dewpoint":26.23,"series":"G5362"},
{"time":"2025-02-01T18:38:00Z","dewpoint":25.44,"series":"G5362"},
{"time":"2025-02-01T18:46:00Z","dewpoint":24.2,"series":"G5362"},
{"time":"2025-02-01T18:52:00Z","dewpoint":23.32,"series":"G5362"},
{"time":"2025-02-01T19:04:00Z","dewpoint":22.88,"series":"G5362"},
{"time":"2025-02-01T19:12:00Z","dewpoint":22.3,"series":"G5362"},
{"time":"2025-02-01T19:22:00Z","dewpoint":21.86,"series":"G5362"},
{"time":"2025-02-01T19:31:00Z","dewpoint":22.44,"series":"G5362"},
{"time":"2025-02-01T19:42:00Z","dewpoint":22.0,"series":"G5362"},
{"time":"2025-02-01T19:50:00Z","dewpoint":21.13,"series":"G5362"},
{"time":"2025-02-01T20:00:00Z","dewpoint":20.25,"series":"G5362"},
{"time":"2025-02-01T20:06:00Z","dewpoint":20.84,"series":"G5362"},
{"time":"2025-02-01T20:17:00Z","dewpoint":21.27,"series":"G5362"},
{"time":"2025-02-01T20:27:00Z","dewpoint":21.27,"series":"G5362"},
{"time":"2025-02-01T20:36:00Z","dewpoint":20.54,"series":"G5362"},
{"time":"2025-02-01T20:48:00Z","dewpoint":20.1,"series":"G5362"},
{"time":"2025-02-01T20:58:00Z","dewpoint":19.82,"series":"G5362"},
{"time":"2025-02-01T21:06:00Z","dewpoint":19.1,"series":"G5362"},
{"time":"2025-02-01T21:12:00Z","dewpoint":17.8,"series":"G5362"},
{"time":"2025-02-01T21:17:00Z","dewpoint":17.04,"series":"G5362"},
{"time":"2025-02-01T21:35:00Z","dewpoint":17.0,"series":"G5362"},
{"time":"2025-02-01T21:47:00Z","dewpoint":16.75,"series":"G5362"},
{"time":"2025-02-01T22:00:00Z","dewpoint":16.6,"series":"G5362"},
{"time":"2025-02-01T22:06:00Z","dewpoint":16.9,"series":"G5362"},
{"time":"2025-02-01T22:18:00Z","dewpoint":17.34,"series":"G5362"},
{"time":"2025-02-01T22:28:00Z","dewpoint":17.2,"series":"G5362"},
{"time":"2025-02-01T22:33:00Z","dewpoint":16.6,"series":"G5362"},
{"time":"2025-02-01T22:42:00Z","dewpoint":16.17,"series":"G5362"},
{"time":"2025-02-01T22:53:00Z","dewpoint":15.94,"series":"G5362"},
{"time":"2025-02-01T23:03:00Z","dewpoint":16.17,"series":"G5362"},
{"time":"2025-02-01T23:12:00Z","dewpoint":15.6,"series":"G5362"},
{"time":"2025-02-01T23:20:00Z","dewpoint":15.2,"series":"G5362"},
{"time":"2025-02-01T23:28:00Z","dewpoint":16.17,"series":"G5362"},
{"time":"2025-02-01T23:36:00Z","dewpoint":16.75,"series":"G5362"},
{"time":"2025-02-01T23:46:00Z","dewpoint":16.46,"series":"G5362"},
{"time":"2025-02-01T23:54:00Z","dewpoint":16.3,"series":"G5362"}
]
},
"layer": [
{
 "data": {"name": "analysis"},
 "mark": {"type": "line", "strokeWidth": 1, "clip": true},
 "encoding": {
  "x": {"field": "time", "type": "temporal",
        "scale": {"type": "utc", "domain": [{"year": 2025, "month": 1, "date": 30, "hours": 0, "utc": true}, {"year": 2025, "month": 2, "date": 2, "hours": 0, "utc": true}]},
        "axis": {"orient": "bottom", "title": null, "tickCount": {"interval": "hours", "step": 6},
                 "labelExpr": "[utcFormat(datum.value, '%m/%d'), utcFormat(datum.value, '%H:%M')]",
                 "tickSize": -5, "labelPadding": 14, "labelLineHeight": 13, "labelOverlap": false, "labelFlush": false, "labelBound": false, "labelAngle": 0}},
  "y": {"field": "dewpoint", "type": "quantitative",
        "scale": {"domain": [15, 50], "nice": false, "zero": false},
        "axis": {"orient": "left", "title": "degrees F", "values": [15, 20, 25, 30, 35, 40, 45, 50], "tickSize": -5, "labelPadding": 13, "titlePadding": 9}},
  "color": {"field": "series", "type": "nominal",
        "scale": {"domain": ["G5362 Analysis", "G5362"], "range": ["#ff0000", "#1a85ff"]},
        "legend": {"orient": "none", "legendX": 534, "legendY": 4, "title": null, "symbolType": "M-1,0H3.8", "symbolSize": 144, "symbolStrokeWidth": 1, "labelAlign": "right", "labelOffset": -18, "labelFont": "DejaVu Sans Mono", "labelFontSize": 10, "labelColor": "black", "rowPadding": 1, "padding": 0}},
  "detail": {"field": "segment"}
 }
},
{
 "data": {"name": "station"},
 "mark": {"type": "line", "strokeWidth": 1, "clip": true},
 "encoding": {
  "x": {"field": "time", "type": "temporal",
        "axis": {"orient": "bottom", "title": null, "labels": false, "tickCount": {"interval": "hours", "step": 2}, "tickSize": -3}},
  "y": {"field": "dewpoint", "type": "quantitative", "axis": null},
  "color": {"field": "series", "type": "nominal"}
 }
},
{
 "data": {"name": "sun"},
 "mark": {"type": "rule", "color": "black", "strokeWidth": 1},
 "encoding": {
  "x": {"field": "time", "type": "temporal",
        "axis": {"orient": "top", "title": null, "labels": false, "tickCount": {"interval": "hours", "step": 6}, "tickSize": -5}},
  "y": {"datum": 15, "type": "quantitative",
        "axis": {"orient": "right", "title": null, "labels": false, "values": [15, 20, 25, 30, 35, 40, 45, 50], "tickSize": -5}},
  "y2": {"datum": 44.85}
 }
},
{
 "data": {"name": "sun"},
 "mark": {"type": "text", "angle": 270, "align": "left", "baseline": "middle", "font": "DejaVu Sans Mono", "fontSize": 10, "color": "black"},
 "encoding": {
  "x": {"field": "time", "type": "temporal",
        "axis": {"orient": "top", "title": null, "labels": false, "tickCount": {"interval": "hours", "step": 2}, "tickSize": -3}},
  "y": {"datum": 45.4, "type": "quantitative", "axis": null},
  "text": {"field": "event"}
 }
}
],
"resolve": {"axis": {"x": "independent", "y": "independent"}}
}
